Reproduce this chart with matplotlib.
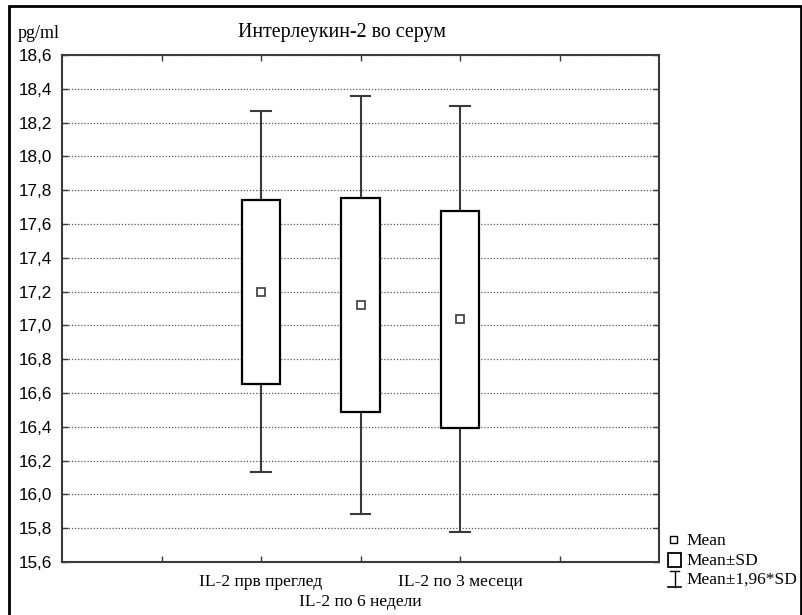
import matplotlib
matplotlib.use("Agg")
import matplotlib.pyplot as plt
from matplotlib.patches import Rectangle

# Serum interleukin-2 (pg/ml) at three visits: mean and standard deviation
groups = ["IL-2 прв преглед", "IL-2 по 6 недели", "IL-2 по 3 месеци"]
means = [17.20, 17.12, 17.036]
sds = [0.544, 0.632, 0.643]
z = 1.96

y_ticks = [15.6, 15.8, 16.0, 16.2, 16.4, 16.6, 16.8, 17.0, 17.2, 17.4,
           17.6, 17.8, 18.0, 18.2, 18.4, 18.6]
y_tick_labels = [f"{v:.1f}".replace(".", ",") for v in y_ticks]

title = "Интерлеукин-2 во серум"
unit = "pg/ml"
legend_labels = ["Mean", "Mean±SD", "Mean±1,96*SD"]

W, H = 802, 615
DPI = 100
fig = plt.figure(figsize=(W / DPI, H / DPI), dpi=DPI)
fig.patch.set_facecolor("white")

serif = ["Liberation Serif", "DejaVu Serif"]
sans = ["Liberation Sans", "DejaVu Sans"]

# plot area in pixels
L, R, T, B = 62, 659, 55, 562
ax = fig.add_axes([L / W, 1 - B / H, (R - L) / W, (B - T) / H])

dark = "#3a3a3a"
positions = [2, 3, 4]
box_w = 0.39

for x, m, s in zip(positions, means, sds):
    lo, hi = m - s, m + s
    wlo, whi = m - z * s, m + z * s
    # whiskers
    ax.plot([x, x], [hi, whi], color=dark, lw=1.5, zorder=3, solid_capstyle="butt")
    ax.plot([x, x], [wlo, lo], color=dark, lw=1.5, zorder=3, solid_capstyle="butt")
    ax.plot([x - 0.1, x + 0.1], [whi, whi], color=dark, lw=1.5, zorder=3)
    ax.plot([x - 0.1, x + 0.1], [wlo, wlo], color=dark, lw=1.5, zorder=3)
    # SD box
    ax.add_patch(Rectangle((x - box_w / 2, lo), box_w, hi - lo,
                           facecolor="white", edgecolor="black", lw=1.6, zorder=4))
    # mean marker
    ax.plot([x], [m], marker="s", ms=6, mfc="white", mec=dark, mew=1.2,
            ls="none", zorder=5)

ax.set_xlim(0, 6)
ax.set_ylim(15.6, 18.6)
ax.set_yticks(y_ticks)
ax.set_yticklabels(y_tick_labels, fontfamily=sans, fontsize=12.3)

# major ticks carry the outer group labels, a minor tick the staggered middle one
ax.xaxis.remove_overlapping_locs = False
ax.set_xticks([1, 2, 3, 4, 5])
ax.set_xticklabels(["", groups[0], "", groups[2], ""],
                   fontfamily=serif, fontsize=12.6)
ax.set_xticks([positions[1]], minor=True)
ax.set_xticklabels([groups[1]], minor=True, fontfamily=serif, fontsize=12.6)

ax.tick_params(axis="both", which="major", direction="in", length=4, width=1,
               color=dark, top=True, right=True)
ax.tick_params(axis="y", pad=7)
ax.tick_params(axis="x", which="major", pad=8.5)
ax.tick_params(axis="x", which="minor", length=0, pad=23, top=False)

ax.grid(axis="y", which="major", linestyle=(0, (1, 1.5)), color="#555555", lw=0.9)
ax.set_axisbelow(True)
for sp in ax.spines.values():
    sp.set_color(dark)
    sp.set_linewidth(1.5)

# title and unit
fig.text(342 / W, 1 - 32 / H, title, ha="center", va="center",
         fontfamily=serif, fontsize=14.3)
fig.text(18 / W, 1 - 34 / H, unit, ha="left", va="center",
         fontfamily=serif, fontsize=13)

# legend drawn in a pixel-space overlay
lax = fig.add_axes([0, 0, 1, 1], facecolor="none")
lax.set_xlim(0, W)
lax.set_ylim(H, 0)
lax.axis("off")
lax.add_patch(Rectangle((670, 536), 7, 7, facecolor="white",
                        edgecolor="black", lw=1))
lax.add_patch(Rectangle((668, 553), 13, 14, facecolor="white",
                        edgecolor="black", lw=1.3))
lax.plot([674.5, 674.5], [571, 587], color="black", lw=1)
lax.plot([670, 679], [571, 571], color="black", lw=1)
lax.plot([668, 681], [587, 587], color="black", lw=1.2)
for yy, lab in zip([541, 561, 580], legend_labels):
    lax.text(686, yy, lab, ha="left", va="center", fontfamily=serif, fontsize=12.5)

# outer frame: left, top and right edges
lax.plot([9, 9, W - 1, W - 1], [H, 5.5, 5.5, H], color="black", lw=2,
         solid_joinstyle="miter")

fig.savefig("out.png", dpi=DPI)
